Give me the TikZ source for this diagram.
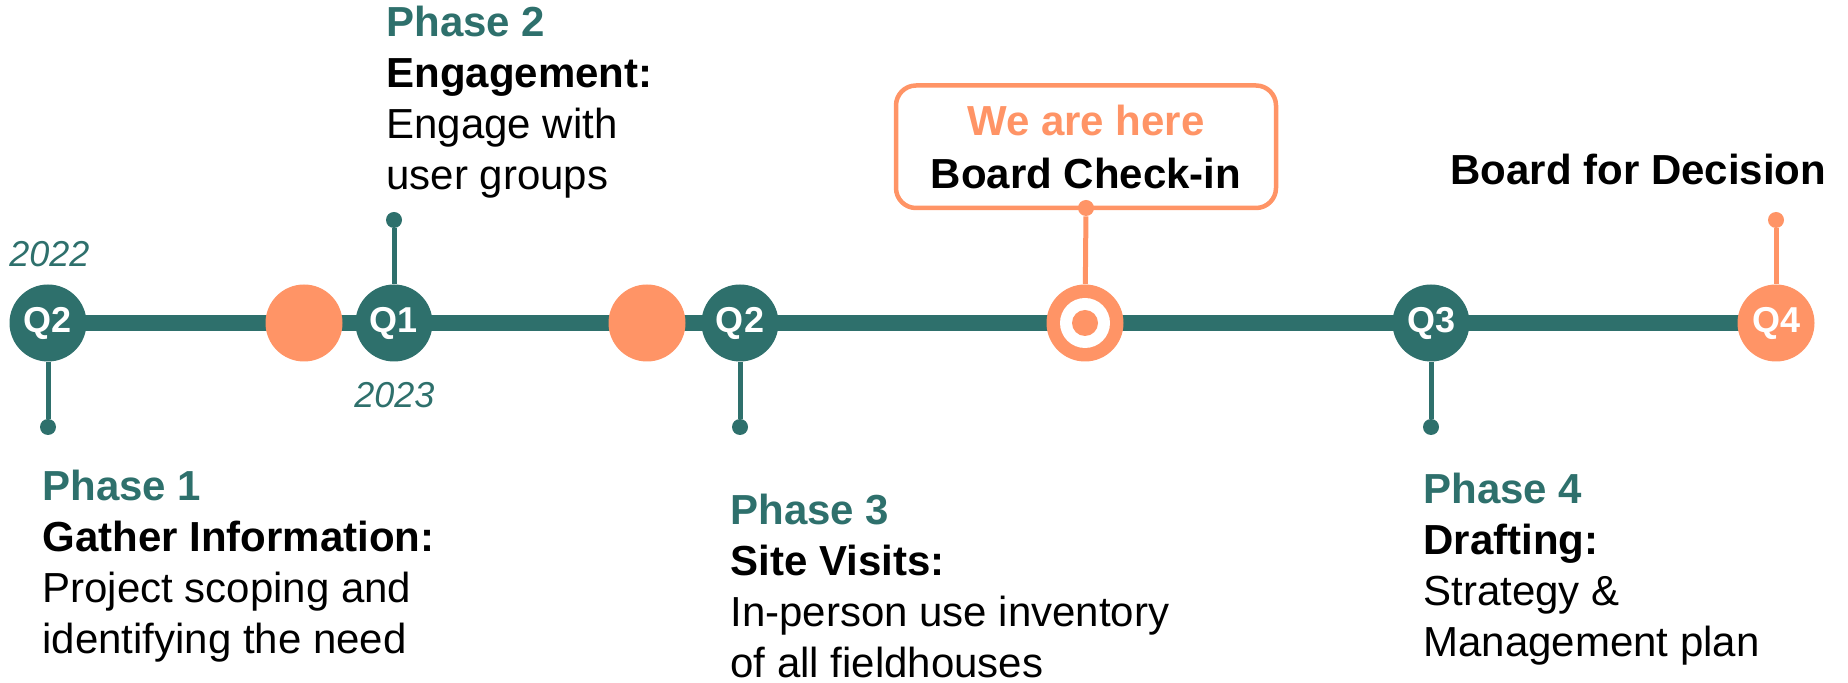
\documentclass[tikz,border=0pt]{standalone}
\usepackage{fontspec}
\setmainfont{Liberation Sans}
\usepackage{tikz}
\usepackage{xcolor}
\usetikzlibrary{backgrounds}
\definecolor{pine}{HTML}{2E706C}
\definecolor{coral}{HTML}{FF9466}
\tikzset{
    quarter/.style = {circle, fill=pine, text=white, font=\fontsize{18}{18}\selectfont\bfseries, minimum size=38.5pt, inner sep=0pt},
    milestone/.style = {quarter, fill=coral},
    stem/.style = {line width=2.5pt},
    stem-dot/.style = {circle, fill, inner sep=0pt, minimum size=8pt},
    phase-text/.style = {anchor=base west, inner sep=0pt, font=\fontsize{21}{25.5}\selectfont},
    year/.style = {anchor=base west, inner sep=0pt, text=pine, font=\fontsize{18}{18}\selectfont\itshape},
    here-box/.style = {draw=coral, line width=2.25pt, rounded corners=10pt, fill=white, outer sep=0pt, inner sep=0pt, minimum width=190pt, minimum height=61.25pt, align=center, font=\fontsize{21}{26.5}\selectfont\bfseries},
}
% teal title, bold heading, two plain lines
\newcommand{\phaseblock}[4]{\begin{tabular}[t]{@{}l@{}}\textcolor{pine}{\bfseries #1}\\ \bfseries #2\\ #3\\ #4\end{tabular}}

\begin{document}
\begin{tikzpicture}[x=0.5pt, y=-0.5pt]
\useasboundingbox (0,0) rectangle (1848,683);

% quarters along the timeline
\node[quarter] (q22) at (48,323) {Q2};
\node[milestone] (gap1) at (304,323) {};
\node[quarter] (q31) at (394,323) {Q1};
\node[milestone] (gap2) at (647,323) {};
\node[quarter] (q32) at (740,323) {Q2};
\node[milestone] (now) at (1085,323) {};
\node[circle, fill=white, inner sep=0pt, minimum size=25pt] (now-ring) at (now) {};
\node[stem-dot, coral, minimum size=13pt] (now-dot) at (now) {};
\node[quarter] (q33) at (1431,323) {Q3};
\node[milestone] (q34) at (1776,323) {Q4};

\begin{scope}[on background layer]
\draw[pine, line width=8pt] (q22.center) -- (q34.center);
\end{scope}

% stems with their end dots
\node[stem-dot, pine] (d1) at (48,427) {};
\node[stem-dot, pine] (d2) at (394,220) {};
\node[stem-dot, pine] (d3) at (740,427) {};
\node[stem-dot, pine] (d4) at (1431,427) {};
\node[stem-dot, coral] (d5) at (1776,220) {};
\draw[stem, pine] (q22) -- (d1);
\draw[stem, pine] (q31) -- (d2);
\draw[stem, pine] (q32) -- (d3);
\draw[stem, pine] (q33) -- (d4);
\draw[stem, coral] (q34) -- (d5);

% current position
\node[here-box] (checkin) at (1086,146.75) {\textcolor{coral}{We are here}\\Board Check-in};
\node[stem-dot, coral] (checkin-dot) at (checkin.south) {};
\draw[stem, coral] (checkin-dot) -- (now);

% years
\node[year] (y2022) at (9,267) {2022};
\node[year] (y2023) at (354,408) {2023};

% phases
\node[phase-text] (phase1) at (42,501) {\phaseblock{Phase 1}{Gather Information:}{Project scoping and}{identifying the need}};
\node[phase-text] (phase2) at (386,37) {\phaseblock{Phase 2}{Engagement:}{Engage with}{user groups}};
\node[phase-text] (phase3) at (730,525) {\phaseblock{Phase 3}{Site Visits:}{In-person use inventory}{of all fieldhouses}};
\node[phase-text] (phase4) at (1423,504) {\phaseblock{Phase 4}{Drafting:}{Strategy \&}{Management plan}};
\node[phase-text, font=\fontsize{21}{25.5}\selectfont\bfseries] (decision) at (1450,185) {Board for Decision};
\end{tikzpicture}
\end{document}
